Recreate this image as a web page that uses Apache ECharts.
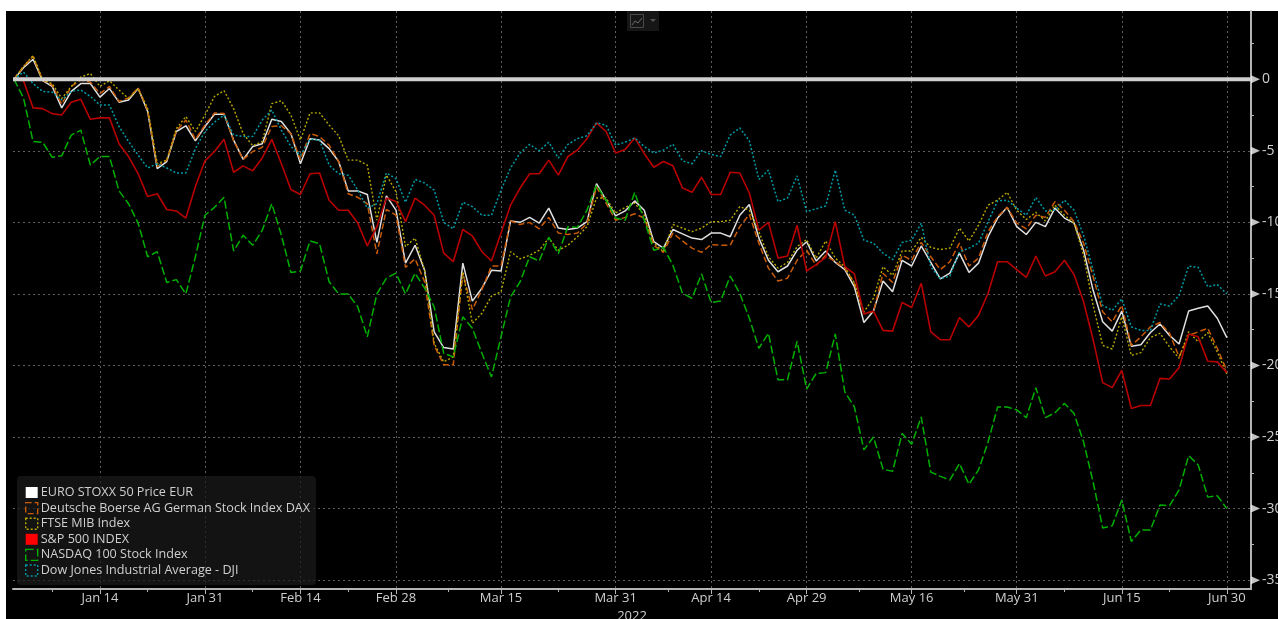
<!DOCTYPE html>
<html><head><meta charset="utf-8">
<style>html,body{margin:0;padding:0;background:#fff;overflow:hidden}#c{width:1278px;height:619px}</style>
<script src="https://cdn.jsdelivr.net/npm/echarts@6/dist/echarts.min.js"></script>
</head><body><div id="c"></div>
<script>
const tickIndex=[9,20,30,40,51,63,73,83,94,105,116,127];
const tickLabels=['Jan 14','Jan 31','Feb 14','Feb 28','Mar 15','Mar 31','Apr 14','Apr 29','May 16','May 31','Jun 15','Jun 30'];
const minorTickIndex=[4,14,25,35,45.5,57,68.5,78,88.5,99.5,110,121];
const yMajor=[0,-5,-10,-15,-20,-25,-30,-35];
const yMinor=[2.5,-2.5,-7.5,-12.5,-17.5,-22.5,-27.5,-32.5];
const euro=[0,0.8,1.4,-0.1,-0.5,-2.0,-0.85,-0.3,-0.3,-1.25,
-0.65,-1.6,-1.45,-0.65,-2.25,-6.25,-5.75,-3.65,-3.25,-4.3,
-3.3,-2.45,-2.45,-4.25,-5.6,-4.7,-4.5,-2.8,-2.95,-3.8,
-5.9,-4.15,-4.25,-4.85,-5.75,-7.8,-7.8,-8.05,-11.4,-8.15,
-9.15,-12.85,-11.6,-13.35,-17.65,-18.75,-18.85,-12.85,-15.5,-14.6,
-13.35,-13.4,-9.9,-10.0,-9.65,-10.05,-9.0,-10.4,-10.5,-10.4,
-9.95,-7.3,-8.45,-9.55,-9.2,-8.5,-9.15,-11.35,-11.8,-10.5,
-10.8,-11.1,-11.2,-10.75,-10.75,-11.0,-9.5,-8.75,-11.1,-12.65,
-13.45,-13.05,-11.95,-11.35,-12.7,-12.0,-12.8,-13.3,-14.5,-17.0,
-16.2,-14.1,-14.85,-12.65,-13.05,-11.65,-12.8,-13.95,-13.55,-12.15,
-13.5,-12.85,-11.0,-9.7,-8.95,-10.3,-10.85,-10.0,-10.3,-9.0,
-9.7,-10.05,-11.95,-14.75,-16.95,-17.6,-16.2,-18.65,-18.55,-17.7,
-17.1,-17.9,-18.5,-16.2,-16.0,-15.85,-16.7,-18.05];
const dax=[0,0.9,1.6,-0.05,-0.4,-1.75,-0.5,-0.05,-0.2,-1.0,
-0.5,-1.55,-1.3,-0.6,-2.15,-6.1,-5.65,-3.6,-2.85,-4.2,
-3.2,-2.35,-2.4,-4.3,-5.6,-5.05,-4.75,-3.3,-3.25,-3.8,
-5.65,-3.8,-4.0,-4.6,-5.75,-8.0,-8.25,-8.7,-12.2,-9.1,
-9.5,-13.15,-12.55,-14.15,-18.6,-19.95,-19.95,-13.55,-16.1,-14.7,
-13.05,-13.05,-9.9,-10.15,-10.0,-10.45,-9.65,-10.75,-10.85,-10.75,
-10.05,-7.55,-8.65,-9.85,-9.65,-9.4,-9.7,-11.6,-12.1,-10.75,
-11.3,-11.8,-12.1,-11.55,-11.6,-11.6,-10.3,-9.45,-11.45,-13.2,
-14.1,-13.9,-12.65,-11.95,-13.0,-12.3,-12.75,-13.2,-14.25,-16.35,
-16.25,-13.55,-14.2,-12.3,-12.65,-11.4,-12.4,-13.3,-12.75,-11.45,
-13.05,-12.5,-10.65,-9.6,-8.95,-10.05,-10.45,-9.5,-9.65,-8.55,
-9.15,-9.95,-11.45,-13.8,-16.25,-16.95,-15.8,-18.6,-18.0,-17.3,
-17.0,-17.75,-19.4,-17.9,-17.65,-17.4,-18.8,-20.35];
const ftse=[0,0.9,1.65,-0.05,-0.3,-1.35,-0.5,0.15,0.4,-0.5,
-0.1,-0.75,-1.35,-0.65,-2.05,-5.9,-5.65,-3.45,-2.6,-3.65,
-2.5,-1.2,-0.8,-2.05,-3.8,-4.65,-4.35,-1.7,-1.5,-2.5,
-4.25,-2.35,-2.35,-3.2,-3.95,-5.65,-5.65,-6.0,-9.85,-6.7,
-7.85,-11.7,-11.1,-13.35,-18.45,-19.75,-19.4,-13.45,-17.05,-16.35,
-15.15,-14.85,-12.05,-12.55,-12.3,-11.95,-11.1,-11.95,-11.6,-11.0,
-10.3,-8.3,-8.3,-9.35,-8.95,-8.65,-9.5,-11.45,-12.05,-10.15,
-10.4,-10.65,-10.4,-9.95,-9.95,-9.85,-8.9,-9.15,-10.65,-12.4,
-13.2,-12.8,-11.7,-11.2,-12.5,-11.3,-12.5,-13.1,-14.25,-16.25,
-15.3,-13.1,-13.7,-12.0,-12.0,-11.05,-11.75,-11.9,-11.8,-10.4,
-11.3,-10.2,-8.8,-8.45,-7.9,-9.15,-9.8,-9.3,-9.9,-8.8,
-9.5,-10.05,-12.3,-15.8,-18.6,-18.85,-16.6,-19.3,-19.1,-18.05,
-17.75,-18.7,-19.5,-17.65,-18.35,-17.7,-19.05,-20.6];
const spx=[0,-0.1,-2.0,-2.05,-2.4,-2.5,-1.6,-1.4,-2.8,-2.7,
-2.7,-4.5,-5.4,-6.6,-8.2,-8.0,-9.1,-9.2,-9.7,-7.5,
-5.7,-5.05,-4.2,-6.5,-6.05,-6.4,-5.5,-4.2,-5.9,-7.7,
-8.05,-6.6,-6.55,-8.45,-9.15,-9.15,-10.05,-11.65,-10.3,-8.3,
-8.55,-9.95,-8.3,-8.8,-9.5,-12.15,-12.75,-10.5,-10.95,-12.05,
-12.7,-10.75,-8.8,-7.6,-6.6,-6.6,-5.65,-6.7,-5.4,-4.95,
-4.15,-3.05,-3.65,-5.15,-4.9,-4.1,-5.2,-6.15,-5.75,-6.05,
-7.6,-7.9,-6.85,-8.05,-8.05,-6.5,-6.55,-7.95,-10.55,-10.0,
-12.5,-12.35,-10.2,-13.4,-12.95,-12.45,-9.95,-13.1,-13.6,-16.4,
-16.2,-17.55,-17.6,-15.6,-15.95,-14.25,-17.65,-18.2,-18.2,-16.65,
-17.3,-16.5,-14.95,-12.75,-12.75,-13.3,-13.85,-12.35,-13.75,-13.45,
-12.65,-13.65,-15.55,-18.2,-21.2,-21.55,-20.35,-23.0,-22.8,-22.8,
-20.9,-20.95,-20.15,-17.8,-18.0,-19.7,-19.75,-20.5];
const ndx=[0,-1.3,-4.35,-4.4,-5.45,-5.35,-3.9,-3.55,-6.0,-5.4,
-5.4,-7.8,-8.7,-10.05,-12.4,-12.05,-14.2,-14.0,-15.0,-12.4,
-9.5,-8.95,-8.25,-12.0,-10.9,-11.6,-10.55,-8.7,-10.9,-13.5,
-13.4,-11.3,-11.5,-14.15,-15.0,-15.0,-15.9,-18.0,-15.0,-13.9,
-13.55,-15.0,-13.55,-14.6,-15.9,-19.15,-19.4,-16.6,-17.4,-19.15,
-20.8,-18.0,-15.2,-14.15,-12.4,-12.7,-11.05,-12.2,-10.3,-10.35,
-9.15,-7.4,-8.45,-9.7,-9.85,-7.9,-9.85,-11.95,-11.75,-13.0,
-14.95,-15.3,-13.6,-15.6,-15.5,-13.75,-14.95,-16.7,-18.8,-17.75,
-21.0,-21.0,-18.3,-21.65,-20.55,-20.5,-17.8,-21.85,-22.9,-25.9,
-25.0,-27.25,-27.4,-24.75,-25.5,-23.6,-27.45,-27.75,-28.0,-26.85,
-28.3,-27.3,-25.35,-22.9,-22.9,-23.1,-23.65,-21.55,-23.65,-23.3,
-22.65,-23.35,-25.35,-28.15,-31.35,-31.2,-29.4,-32.3,-31.5,-31.5,
-29.75,-29.8,-28.7,-26.3,-26.95,-29.2,-29.1,-30.0];
const dji=[0,0.5,-0.3,-0.85,-0.9,-1.45,-0.85,-0.75,-1.2,-1.8,
-1.8,-3.3,-4.35,-5.3,-6.2,-5.9,-6.2,-6.55,-6.55,-4.85,
-3.65,-3.0,-2.5,-3.9,-4.0,-4.0,-2.85,-2.15,-3.55,-4.7,
-5.3,-4.2,-4.25,-6.0,-6.6,-6.7,-7.75,-9.0,-8.7,-6.55,
-6.95,-8.6,-7.0,-7.25,-7.75,-10.0,-10.45,-8.6,-8.9,-9.5,
-9.5,-7.75,-6.2,-5.15,-4.55,-5.0,-4.4,-5.5,-4.55,-4.15,
-3.95,-3.05,-3.2,-4.6,-4.4,-4.1,-4.7,-5.15,-4.95,-4.55,
-5.7,-5.9,-5.0,-5.25,-5.4,-3.9,-3.4,-4.3,-7.0,-6.35,
-8.55,-8.3,-6.75,-9.25,-9.05,-8.85,-6.35,-9.15,-9.5,-11.25,
-11.45,-12.15,-12.6,-11.4,-11.25,-10.05,-13.1,-13.95,-13.75,-12.05,
-11.8,-11.45,-9.95,-8.5,-8.45,-9.0,-9.5,-8.25,-9.2,-9.15,
-8.45,-9.15,-10.9,-13.35,-15.8,-16.15,-15.35,-17.3,-17.55,-17.55,
-15.7,-15.85,-15.1,-13.05,-13.15,-14.5,-14.35,-15.0];

const FONT='"Open Sans", sans-serif';
const xMin=-0.1, xMax=129.53, yMin=-35.62, yMax=4.77;
const seriesDefs=[
 {name:'EURO STOXX 50 Price EUR',data:euro,color:'#e0e0e0',type:'solid',w:1.5,legend:'#ffffff',fill:true},
 {name:'Deutsche Boerse AG German Stock Index DAX',data:dax,color:'#c85a08',type:[6,3],w:1.5,fill:false},
 {name:'FTSE MIB Index',data:ftse,color:'#b8a800',type:[2,2],w:1.4,fill:false},
 {name:'S&P 500 INDEX',data:spx,color:'#b80000',type:'solid',w:1.6,legend:'#ff0000',fill:true},
 {name:'NASDAQ 100 Stock Index',data:ndx,color:'#00b000',type:[8,3],w:1.5,fill:false},
 {name:'Dow Jones Industrial Average - DJI',data:dji,color:'#009aa6',type:[2,2],w:1.5,fill:false}
];
const toPts=a=>a.map((v,i)=>[i,v]);
const series=seriesDefs.map(d=>({
  name:d.name,type:'line',data:toPts(d.data),showSymbol:false,symbol:'none',smooth:false,silent:true,
  lineStyle:{color:d.color,width:d.w,type:d.type},itemStyle:{color:d.color},z:3
}));
series.push({type:'line',name:'zero',data:[[xMin,0],[xMax,0]],showSymbol:false,symbol:'none',silent:true,
  lineStyle:{color:'#cfcfcf',width:3.8},z:6});
series.push({type:'scatter',name:'marks',data:yMajor.map(v=>[xMax,v]),clip:false,silent:true,
  symbol:'triangle',symbolSize:[8,9],symbolRotate:-90,symbolOffset:[4.5,0],itemStyle:{color:'#f4f4f4'},z:8});

const chart=echarts.init(document.getElementById('c'),null,{renderer:'canvas'});
chart.setOption({
  animation:false,
  backgroundColor:'#ffffff',
  textStyle:{fontFamily:FONT},
  graphic:[
    {type:'rect',z:-10,silent:true,shape:{x:6,y:11,width:1272,height:608},style:{fill:'#000'}},
    {type:'rect',z:10,silent:true,shape:{x:627,y:11,width:32,height:20},style:{fill:'#161616'}},
    {type:'rect',z:11,silent:true,shape:{x:630.5,y:14.5,width:13,height:13},style:{fill:'none',stroke:'#4a4a4a',lineWidth:1}},
    {type:'polyline',z:11,silent:true,shape:{points:[[632,25],[635,21],[638,23],[642,18]]},style:{stroke:'#6a6a6a',lineWidth:1,fill:'none'}},
    {type:'polygon',z:11,silent:true,shape:{points:[[650,19],[656,19],[653,22]]},style:{fill:'#555'}}
  ],
  grid:{left:13,right:27,top:11,bottom:30,containLabel:false,outerBoundsMode:'none'},
  legend:{
    orient:'vertical',left:17,top:476,padding:[10,6,8,8],itemWidth:12,itemHeight:11,itemGap:2.6,
    backgroundColor:'rgba(26,26,26,0.72)',borderRadius:4,selectedMode:false,z:20,
    itemStyle:{decal:'none'},
    textStyle:{color:'#cfcfcf',fontSize:12.6,lineHeight:12,fontFamily:FONT,padding:[0,0,0,-2]},
    data:seriesDefs.map(d=>({name:d.name,icon:'rect',
      itemStyle:d.fill?{color:d.legend,borderWidth:0}:{color:'rgba(0,0,0,0)',borderColor:d.color,borderWidth:1.4,borderType:d.type}}))
  },
  xAxis:[{
    type:'value',min:xMin,max:xMax,position:'bottom',
    name:'2022',nameLocation:'middle',nameGap:13,nameTextStyle:{color:'#cfcfcf',fontSize:13,fontFamily:FONT},
    axisLine:{show:true,onZero:false,lineStyle:{color:'#b4b4b4',width:2}},
    axisTick:{show:true,length:5,customValues:tickIndex,lineStyle:{color:'#b4b4b4',width:1}},
    axisLabel:{show:true,customValues:tickIndex,margin:3,color:'#cfcfcf',fontSize:13,fontFamily:FONT,
      formatter:v=>tickLabels[tickIndex.indexOf(Math.round(v))]||''},
    splitLine:{show:true,lineStyle:{color:'#5e5e5e',width:1,type:[2,3]}}
  },{
    type:'value',min:xMin,max:xMax,position:'bottom',
    axisLine:{show:false,onZero:false},
    axisTick:{show:true,length:3,customValues:minorTickIndex,lineStyle:{color:'#b4b4b4',width:1}},
    axisLabel:{show:false,customValues:minorTickIndex},splitLine:{show:false}
  }],
  yAxis:[{
    type:'value',min:yMin,max:yMax,position:'right',
    axisLine:{show:true,onZero:false,lineStyle:{color:'#b4b4b4',width:2}},
    axisTick:{show:false,customValues:yMajor},
    axisLabel:{show:true,customValues:yMajor,margin:11,color:'#cfcfcf',fontSize:14,fontFamily:FONT,align:'left'},
    splitLine:{show:true,lineStyle:{color:'#5e5e5e',width:1,type:[2,3]}}
  },{
    type:'value',min:yMin,max:yMax,position:'right',
    axisLine:{show:false,onZero:false},
    axisTick:{show:true,length:3,customValues:yMinor,lineStyle:{color:'#b4b4b4',width:1}},
    axisLabel:{show:false,customValues:yMinor},splitLine:{show:false}
  }],
  series
});
</script></body></html>
